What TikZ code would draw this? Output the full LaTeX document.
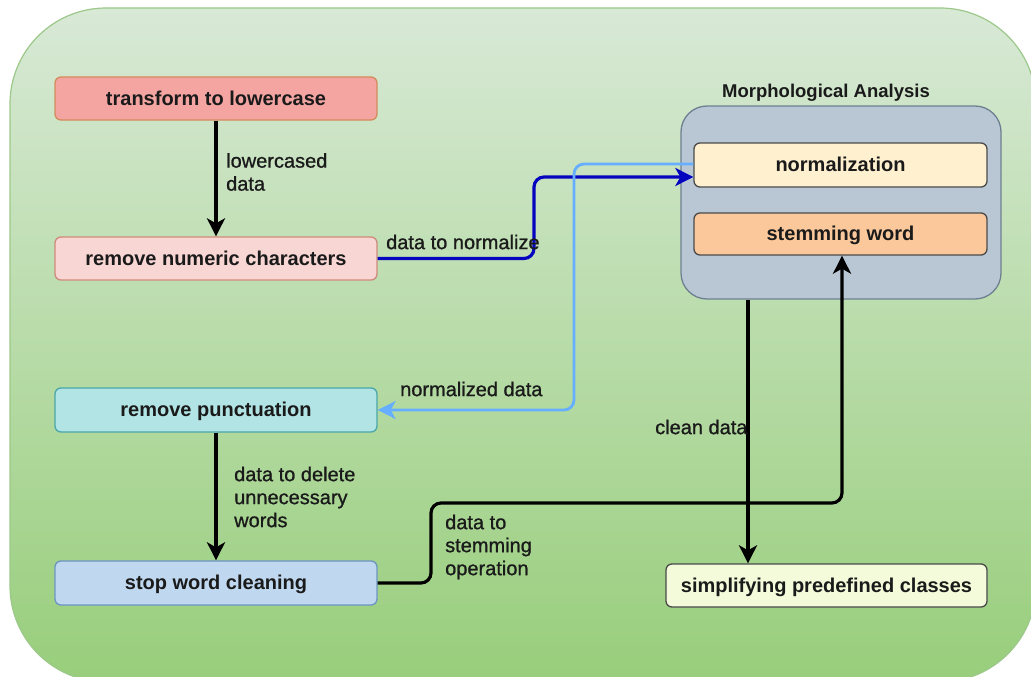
\documentclass[tikz,border=0pt]{standalone}
\usepackage{fontspec}
\setmainfont{Liberation Sans}
\newfontfamily\labelfont{Liberation Sans}[FakeBold=0.9]
\usetikzlibrary{arrows.meta,calc}

\definecolor{bgtop}{HTML}{D8E9D6}
\definecolor{bgbot}{HTML}{98CE7B}
\definecolor{bgline}{HTML}{9CC88A}
\definecolor{lowfill}{HTML}{F4A5A2}
\definecolor{lowline}{HTML}{D38C5C}
\definecolor{numfill}{HTML}{F8D6D3}
\definecolor{numline}{HTML}{D08A7C}
\definecolor{pncfill}{HTML}{B2E3E5}
\definecolor{pncline}{HTML}{4AA6AA}
\definecolor{stpfill}{HTML}{C0D8EF}
\definecolor{stpline}{HTML}{6D95C4}
\definecolor{grpfill}{HTML}{B9C7D5}
\definecolor{grpline}{HTML}{6E8090}
\definecolor{nrmfill}{HTML}{FFF1CF}
\definecolor{stmfill}{HTML}{FAC89B}
\definecolor{smpfill}{HTML}{F4FBDA}
\definecolor{boxline}{HTML}{4A4A4A}
\definecolor{darkblue}{HTML}{0505C0}
\definecolor{lightblue}{HTML}{66AEFF}
\definecolor{txt}{HTML}{1A1A1A}

\tikzset{
  stepbox/.style={draw, line width=1.3pt, rounded corners=6pt, inner sep=0pt,
    minimum width=322pt, minimum height=43pt, text=txt,
    text height=15pt, text depth=1.4pt,
    font=\fontsize{20}{23}\selectfont\bfseries},
  lbl/.style={inner sep=0pt, align=left, text=txt,
    font=\fontsize{20}{23}\selectfont\labelfont},
  flow/.style={line width=3.2pt, rounded corners=10pt,
    -{Stealth[length=18pt,width=18pt,inset=5pt]}},
}

\begin{document}
\begin{tikzpicture}[x=1pt,y=-1pt]
  % page and rounded green backdrop
  \fill[white] (0,0) rectangle (1031,677);
  \useasboundingbox (0,0) rectangle (1031,677);
  \begin{scope}
    \clip (0,0) rectangle (1031,677);
    \shade[top color=bgtop, bottom color=bgbot, rounded corners=96pt]
      (10,8) rectangle (1036,682);
    \draw[bgline, line width=1.2pt, rounded corners=96pt]
      (10,8) rectangle (1036,682);
  \end{scope}

  % left column of cleaning steps
  \node[stepbox, fill=lowfill, draw=lowline] (low)  at (216,98.5) {transform to lowercase};
  \node[stepbox, fill=numfill, draw=numline] (num)  at (216,258.5) {remove numeric characters};
  \node[stepbox, fill=pncfill, draw=pncline, minimum height=44pt] (punc) at (216,410) {remove punctuation};
  \node[stepbox, fill=stpfill, draw=stpline, minimum height=44pt] (stop) at (216,583) {stop word cleaning};

  % morphological analysis group
  \node[draw=grpline, fill=grpfill, line width=1.3pt, rounded corners=26pt,
        minimum width=320pt, minimum height=193pt] (morph) at (841,202.5) {};
  \node[lbl, font=\fontsize{18.5}{22}\selectfont\bfseries] (title) at (826,93) {Morphological Analysis};
  \node[stepbox, fill=nrmfill, draw=boxline, minimum width=293pt, minimum height=44pt] (norm) at (840.5,165) {normalization};
  \node[stepbox, fill=stmfill, draw=boxline, minimum width=293pt, minimum height=42pt] (stem) at (840.5,234) {stemming word};

  % result
  \node[stepbox, fill=smpfill, draw=boxline, minimum width=321pt] (simp) at (826.5,585.5) {simplifying predefined classes};

  % routing points
  \coordinate (jblue) at (534,258.5);
  \coordinate (jlight) at (574,410);
  \coordinate (jstem) at (431,503);
  \coordinate (xclean) at (748,0);

  % connectors
  \draw[flow] (low) -- (num);
  \draw[flow, darkblue] (num.east) -- (jblue) |- ([yshift=-12pt]norm.west);
  \draw[flow, lightblue, line width=2.8pt] ([yshift=1pt]norm.west) -| (jlight) -- (punc.east);
  \draw[flow] (punc) -- (stop);
  \draw[flow] (xclean |- morph.south) -- (xclean |- simp.north);
  \draw[flow] (stop.east) -| (jstem) -| ([xshift=1.5pt]stem.south);

  % connector labels
  \node[lbl, anchor=west] (l1) at (226,172) {lowercased\\data};
  \node[lbl, anchor=west] (l2) at (386,242) {data to normalize};
  \node[lbl, anchor=west] (l3) at (400,389) {normalized data};
  \node[lbl, anchor=west] (l4) at (655,427) {clean data};
  \node[lbl, anchor=west] (l5) at (234,497) {data to delete\\unnecessary\\words};
  \node[lbl, anchor=west] (l6) at (445,547) {data to\\stemming\\operation};
\end{tikzpicture}
\end{document}
